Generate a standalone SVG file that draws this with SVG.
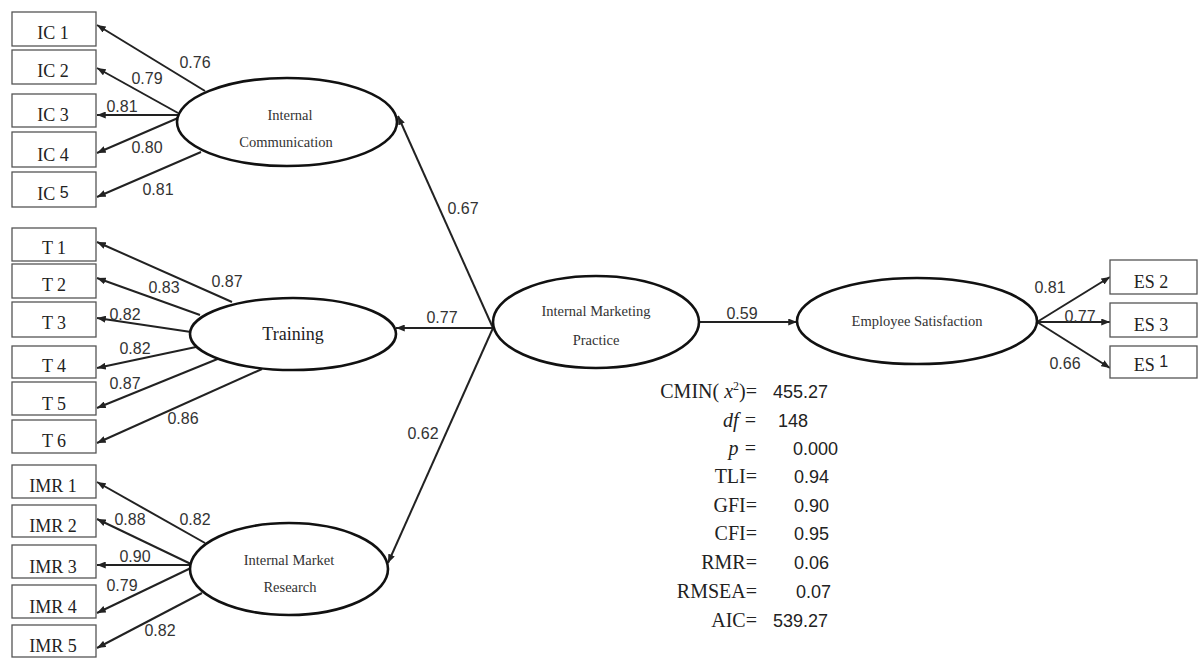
<svg xmlns="http://www.w3.org/2000/svg" width="1200" height="659" viewBox="0 0 1200 659">
<defs>
<marker id="ah" viewBox="0 0 10 8" refX="10" refY="4" markerWidth="9" markerHeight="7" orient="auto" markerUnits="userSpaceOnUse">
<path d="M0,0 L10,4 L0,8 z" fill="#222"/>
</marker>
<style>
.box{fill:#fff;stroke:#555;stroke-width:1.3}
.ell{fill:#fff;stroke:#111;stroke-width:2.6}
.bt{font-family:"Liberation Serif",serif;font-size:18px;fill:#222;text-anchor:middle}
.et{font-family:"Liberation Serif",serif;font-size:14.5px;fill:#333;text-anchor:middle}
.ln{stroke:#222;stroke-width:2;fill:none;marker-end:url(#ah)}
.lb{font-family:"Liberation Sans",sans-serif;font-size:16px;fill:#333;text-anchor:middle}
.sl{font-family:"Liberation Serif",serif;font-size:20px;fill:#222;text-anchor:end}
.sv{font-family:"Liberation Sans",sans-serif;font-size:18px;fill:#222}
</style>
</defs>
<rect width="1200" height="659" fill="#fff"/>

<g id="connectors">
<line class="ln" x1="205" y1="91" x2="97" y2="25"/>
<line class="ln" x1="178" y1="113" x2="97" y2="68"/>
<line class="ln" x1="178" y1="115" x2="97" y2="115"/>
<line class="ln" x1="178" y1="118" x2="97" y2="153"/>
<line class="ln" x1="201" y1="152" x2="97" y2="197"/>
<line class="ln" x1="232" y1="302" x2="97" y2="242"/>
<line class="ln" x1="200" y1="315" x2="97" y2="278"/>
<line class="ln" x1="191" y1="332" x2="97" y2="318"/>
<line class="ln" x1="196" y1="347" x2="97" y2="368"/>
<line class="ln" x1="220" y1="358" x2="97" y2="408"/>
<line class="ln" x1="262" y1="369" x2="97" y2="443"/>
<line class="ln" x1="205" y1="543" x2="97" y2="482"/>
<line class="ln" x1="193" y1="565" x2="97" y2="519"/>
<line class="ln" x1="193" y1="565" x2="97" y2="565"/>
<line class="ln" x1="193" y1="567" x2="97" y2="613"/>
<line class="ln" x1="202" y1="593" x2="97" y2="648"/>
<line class="ln" x1="493" y1="328" x2="398" y2="116"/>
<line class="ln" x1="493" y1="328" x2="396" y2="328"/>
<line class="ln" x1="493" y1="328" x2="388" y2="563"/>
<line class="ln" x1="699" y1="322" x2="797" y2="322"/>
<line class="ln" x1="1037" y1="322" x2="1110" y2="277"/>
<line class="ln" x1="1037" y1="322" x2="1110" y2="322"/>
<line class="ln" x1="1037" y1="322" x2="1110" y2="368"/>
<text class="lb" x="195" y="68">0.76</text>
<text class="lb" x="147" y="84">0.79</text>
<text class="lb" x="122" y="112">0.81</text>
<text class="lb" x="147" y="153">0.80</text>
<text class="lb" x="158" y="195">0.81</text>
<text class="lb" x="227" y="287">0.87</text>
<text class="lb" x="164" y="293">0.83</text>
<text class="lb" x="125" y="320">0.82</text>
<text class="lb" x="135" y="354">0.82</text>
<text class="lb" x="125" y="389">0.87</text>
<text class="lb" x="183" y="424">0.86</text>
<text class="lb" x="195" y="525">0.82</text>
<text class="lb" x="130" y="525">0.88</text>
<text class="lb" x="135" y="562">0.90</text>
<text class="lb" x="122" y="591">0.79</text>
<text class="lb" x="160" y="636">0.82</text>
<text class="lb" x="463" y="214">0.67</text>
<text class="lb" x="442" y="323">0.77</text>
<text class="lb" x="423" y="439">0.62</text>
<text class="lb" x="742" y="319">0.59</text>
<text class="lb" x="1050" y="293">0.81</text>
<text class="lb" x="1080" y="322">0.77</text>
<text class="lb" x="1065" y="369">0.66</text>
</g>

<g id="IC1"><rect class="box" x="12" y="12" width="84" height="34"/><text class="bt" x="53" y="39">IC 1</text></g>
<g id="IC2"><rect class="box" x="12" y="50" width="84" height="34"/><text class="bt" x="53" y="77">IC 2</text></g>
<g id="IC3"><rect class="box" x="12" y="94" width="84" height="33"/><text class="bt" x="53" y="121">IC 3</text></g>
<g id="IC4"><rect class="box" x="12" y="132" width="84" height="35"/><text class="bt" x="53" y="161">IC 4</text></g>
<g id="IC5"><rect class="box" x="12" y="172" width="84" height="35"/><text class="bt" x="53" y="200">IC  <tspan font-family="Liberation Sans,sans-serif" font-size="16" dy="-2">5</tspan></text></g>

<g id="T1"><rect class="box" x="12" y="228" width="84" height="33"/><text class="bt" x="54" y="254">T 1</text></g>
<g id="T2"><rect class="box" x="12" y="264" width="84" height="34"/><text class="bt" x="54" y="291">T 2</text></g>
<g id="T3"><rect class="box" x="12" y="302" width="84" height="35"/><text class="bt" x="54" y="329">T 3</text></g>
<g id="T4"><rect class="box" x="12" y="346" width="84" height="32"/><text class="bt" x="54" y="372">T 4</text></g>
<g id="T5"><rect class="box" x="12" y="382" width="84" height="33"/><text class="bt" x="54" y="410">T 5</text></g>
<g id="T6"><rect class="box" x="12" y="420" width="84" height="33"/><text class="bt" x="54" y="447">T 6</text></g>

<g id="IMR1"><rect class="box" x="12" y="465" width="84" height="33"/><text class="bt" x="53" y="492">IMR 1</text></g>
<g id="IMR2"><rect class="box" x="12" y="505" width="84" height="32"/><text class="bt" x="53" y="532">IMR 2</text></g>
<g id="IMR3"><rect class="box" x="12" y="545" width="84" height="33"/><text class="bt" x="53" y="573">IMR 3</text></g>
<g id="IMR4"><rect class="box" x="12" y="585" width="84" height="33"/><text class="bt" x="53" y="613">IMR 4</text></g>
<g id="IMR5"><rect class="box" x="12" y="625" width="84" height="32"/><text class="bt" x="53" y="652">IMR 5</text></g>

<g id="IC"><ellipse class="ell" cx="287" cy="122" rx="110" ry="44"/><text class="et" x="290" y="120">Internal</text><text class="et" x="286" y="147">Communication</text></g>
<g id="Training"><ellipse class="ell" cx="293" cy="334" rx="103" ry="36"/><text class="bt" x="293" y="340" font-size="20">Training</text></g>
<g id="IMR"><ellipse class="ell" cx="289" cy="569" rx="99" ry="46"/><text class="et" x="289" y="565">Internal Market</text><text class="et" x="290" y="592">Research</text></g>
<g id="IMP"><ellipse class="ell" cx="596" cy="322" rx="103" ry="46"/><text class="et" x="596" y="316">Internal Marketing</text><text class="et" x="596" y="345">Practice</text></g>
<g id="ES"><ellipse class="ell" cx="917" cy="321" rx="120" ry="43"/><text class="et" x="917" y="326">Employee Satisfaction</text></g>

<g id="ES2"><rect class="box" x="1110" y="260" width="87" height="34"/><text class="bt" x="1151" y="288">ES 2</text></g>
<g id="ES3"><rect class="box" x="1110" y="303" width="87" height="34"/><text class="bt" x="1151" y="331">ES 3</text></g>
<g id="ES1"><rect class="box" x="1110" y="346" width="87" height="32"/><text class="bt" x="1151" y="371">ES <tspan font-family="Liberation Sans,sans-serif" font-size="16" dy="-4">1</tspan></text></g>

<g id="stats">
<text class="sl" x="757" y="398">CMIN( <tspan font-style="italic">x</tspan><tspan font-size="12" dy="-8">2</tspan><tspan dy="8">)=</tspan></text>
<text class="sl" x="757" y="427" font-style="italic" font-size="17">df =</text>
<text class="sl" x="757" y="455" font-style="italic" font-size="17">p =</text>
<text class="sl" x="757" y="483">TLI=</text>
<text class="sl" x="757" y="512">GFI=</text>
<text class="sl" x="757" y="540">CFI=</text>
<text class="sl" x="757" y="569">RMR=</text>
<text class="sl" x="757" y="598">RMSEA=</text>
<text class="sl" x="757" y="627">AIC=</text>
<text class="sv" x="773" y="398">455.27</text>
<text class="sv" x="778" y="427">148</text>
<text class="sv" x="793" y="455">0.000</text>
<text class="sv" x="794" y="483">0.94</text>
<text class="sv" x="794" y="512">0.90</text>
<text class="sv" x="794" y="540">0.95</text>
<text class="sv" x="794" y="569">0.06</text>
<text class="sv" x="796" y="598">0.07</text>
<text class="sv" x="773" y="627">539.27</text>
</g>
</svg>
